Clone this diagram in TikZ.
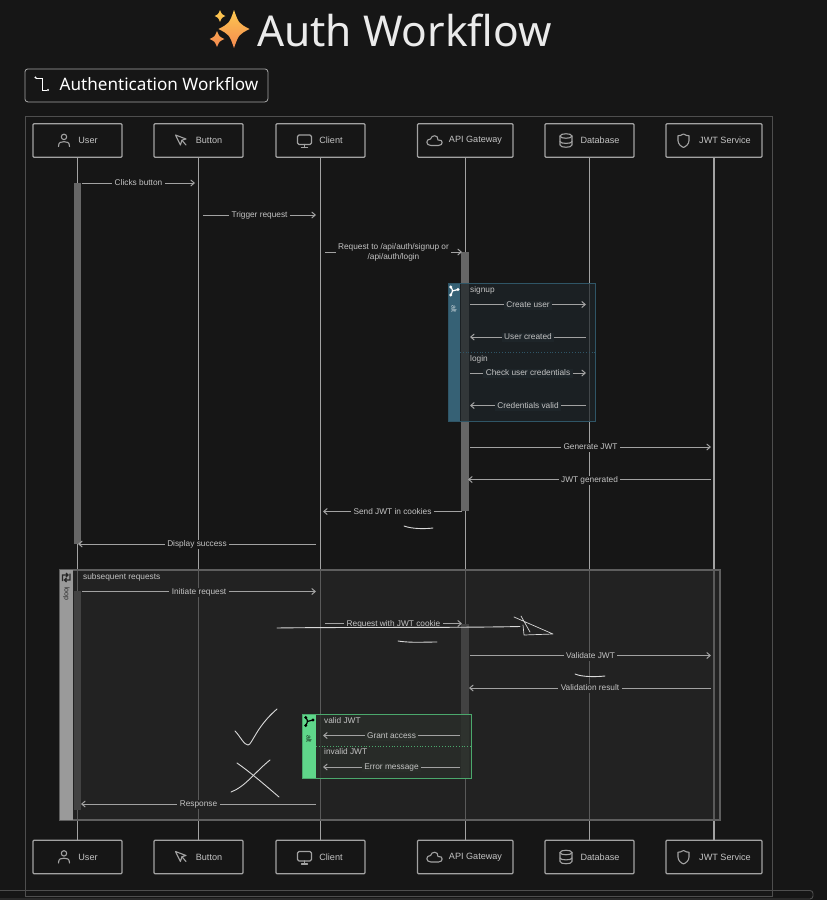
\documentclass[tikz,border=0pt]{standalone}
\usepackage{fontspec}
\setmainfont{Liberation Sans}
\newfontfamily\titlefont{Noto Sans}
\usetikzlibrary{arrows.meta,calc}
\definecolor{pagebg}{HTML}{161616}
\definecolor{framec}{HTML}{4E4E4E}
\definecolor{linec}{HTML}{A2A2A2}
\definecolor{textc}{HTML}{C4C4C4}
\definecolor{loopbg}{HTML}{222222}
\definecolor{loopover}{HTML}{2A2A2A}
\definecolor{loopedge}{HTML}{5E5E5E}
\definecolor{looptab}{HTML}{9A9A9A}
\definecolor{tealbg}{HTML}{1E2529}
\definecolor{tealtab}{HTML}{39677C}
\definecolor{tealline}{HTML}{2F5566}
\definecolor{greenbg}{HTML}{2A2E2A}
\definecolor{greentab}{HTML}{5FD68A}
\definecolor{greenline}{HTML}{4BA86C}
\definecolor{actc}{HTML}{666666}
\definecolor{staryellow}{HTML}{FCC850}
\definecolor{starorange}{HTML}{F58A50}
\tikzset{
  x=1pt,y=-1pt,
  actor/.style={draw=linec,line width=1.1pt,rounded corners=1pt,minimum height=33.5pt,inner sep=0pt,font=\fontsize{9.1}{10}\selectfont,text=textc,anchor=center},
  lifeline/.style={draw=linec,line width=1.1pt},
  msgline/.style={draw=linec,line width=1pt,-{Straight Barb[length=3.5pt,width=6pt]}},
  msgtext/.style={font=\fontsize{8.3}{10}\selectfont,text=textc,inner xsep=2.5pt,inner ysep=.5pt,align=center,yshift=-.7pt},
  oneline/.style={text height=5.9pt,text depth=1.7pt},
  framelabel/.style={font=\fontsize{8.3}{10}\selectfont,text=textc,anchor=west,inner sep=0pt,yshift=-.5pt},
  icon/.style={draw=linec,line width=1.1pt,line join=round,line cap=round,fill=none},
  scribble/.style={draw=white!85!black,line width=.9pt,line cap=round,line join=round},
  activation/.style={fill=actc,draw=none},
}
\newcommand{\msg}[7]{% id, x1, x2, y, label, extra style, background
  \coordinate (#1s) at (#2,#4);
  \coordinate (#1e) at (#3,#4);
  \draw[msgline] (#1s) -- (#1e);
  \node[msgtext,#6,fill=#7] (#1t) at ($(#1s)!.5!(#1e)$) {#5};
}
\newcommand{\fourstar}[6]{% cx, cy, rx, ry, top colour, bottom colour
  \shade[top color=#5,bottom color=#6] (#1,#2-#4) .. controls (#1+.3*#3,#2-.3*#4) .. (#1+#3,#2)
    .. controls (#1+.3*#3,#2+.3*#4) .. (#1,#2+#4)
    .. controls (#1-.3*#3,#2+.3*#4) .. (#1-#3,#2)
    .. controls (#1-.3*#3,#2-.3*#4) .. cycle;
}
\tikzset{
  pics/person/.style={code={
    \draw[icon] (0,-3.6) circle (2.7);
    \draw[icon] (-5.5,6) .. controls (-5.5,1.5) and (-3,1.2) .. (0,1.2) .. controls (3,1.2) and (5.5,1.5) .. (5.5,6);
  }},
  pics/cursor/.style={code={
    \draw[icon] (-5.5,-5.5) -- (5,-1.5) -- (.9,-.3) -- (-.6,4.5) -- cycle;
    \draw[icon] (.9,-.3) -- (5,4.5);
  }},
  pics/monitor/.style={code={
    \draw[icon,rounded corners=1.5pt] (-7,-5.5) rectangle (7,4);
    \draw[icon] (0,4) -- (0,7) (-3,7) -- (3,7);
  }},
  pics/cloud/.style={code={
    \draw[icon] (-3.5,5) .. controls (-9,5) and (-9,-1.5) .. (-4,-1.5)
      .. controls (-3,-6) and (4,-6) .. (3.5,-.5)
      .. controls (9,-1.5) and (9,5) .. (4,5) -- cycle;
  }},
  pics/dbicon/.style={code={
    \draw[icon] (-6,-4.5) .. controls (-6,-7.5) and (6,-7.5) .. (6,-4.5) .. controls (6,-1.5) and (-6,-1.5) .. (-6,-4.5);
    \draw[icon] (-6,-4.5) -- (-6,4.5) .. controls (-6,7.5) and (6,7.5) .. (6,4.5) -- (6,-4.5);
    \draw[icon] (-6,1) .. controls (-6,3.5) and (6,3.5) .. (6,1);
  }},
  pics/shield/.style={code={
    \draw[icon] (0,-6.5) .. controls (2,-5) and (4,-4.8) .. (5.5,-4.8) -- (5.5,0)
      .. controls (5.5,4) and (2,6) .. (0,7) .. controls (-2,6) and (-5.5,4) .. (-5.5,0) -- (-5.5,-4.8)
      .. controls (-4,-4.8) and (-2,-5) .. (0,-6.5);
  }},
  pics/branch/.style={code={
    \fill[#1] (-3.2,-4) circle (1.6) (-3.2,4) circle (1.6) (4,-1.5) circle (1.6);
    \draw[#1,line width=1.2pt] (-3.2,-4) .. controls (-1,-.5) .. (-3.2,4) (-1.8,0) -- (4,-1.5);
  }},
}
\begin{document}
\begin{tikzpicture}
\useasboundingbox (0,0) rectangle (827,900);
\fill[pagebg] (0,0) rectangle (827,900);

% title
\fourstar{234}{29}{15.5}{19}{staryellow}{starorange}
\fourstar{220}{16}{5.5}{6}{staryellow}{staryellow!80!starorange}
\fourstar{217}{39}{7.5}{8}{staryellow!40!starorange}{starorange}
\node[font=\titlefont\fontsize{42.5}{48}\selectfont,text=white!92!black,anchor=west,inner sep=0pt] (title) at (257,30) {Auth Workflow};

% tab button
\node[draw=white!65!black,line width=.8pt,rounded corners=3pt,minimum width=243pt,minimum height=33pt,inner sep=0pt,anchor=north west] (tabbtn) at (24.5,68.5) {};
\node[text=white,font=\titlefont\fontsize{17.1}{20}\selectfont,anchor=west,inner sep=0pt] (tabtext) at (59.5,84) {Authentication Workflow};
\draw[white,line width=1pt] (36,78) -- (42,78) -- (42,90) -- (47,90);
\fill[white] (35.5,77.5) circle (1.2) (48,90) circle (1.2);

% outer frame
\node[draw=framec,line width=1pt,minimum width=746.5pt,minimum height=780.5pt,inner sep=0pt,anchor=north west] (outer) at (25,115.5) {};

% actors
\foreach \nm/\cx/\bw in {user/77.5/89,button/198.5/89,client/320.5/89,api/465.25/95.5,db/589.5/89,jwt/714/96}{
  \node[actor,minimum width=\bw pt] (\nm T) at (\cx,140.5) {};
  \node[actor,minimum width=\bw pt] (\nm B) at (\cx,857) {};
}

% lifelines
\foreach \nm in {user,button,client,api,db,jwt}{
  \draw[lifeline] (\nm T.south) -- (\nm B.north);
}

% activations
\fill[activation] (74,183) rectangle (81,544);
\fill[activation] (461,252) rectangle (469,511);
\fill[activation] (74,591) rectangle (81,810);
\fill[activation] (461,624) rectangle (469,778);

% loop frame: a veil over lifelines and activations
\fill[loopover,opacity=.6] (60,570) rectangle (720,820);
\draw[loopedge,line width=1.1pt] (60,570) rectangle (720,820);
\fill[looptab] (60,570) rectangle (73,820);

% alt teal
\fill[tealbg,opacity=.72] (448,283) rectangle (595,421);
\fill[tealtab,opacity=.92] (448,283) rectangle (460,421);
\draw[tealline,line width=.9pt] (448,283) rectangle (595,421);
\draw[tealline,line width=.8pt,dotted] (460,352) -- (595,352);
\pic at (454,291) {branch=white};
\node[rotate=-90,font=\fontsize{7}{8}\selectfont,text=white!75!tealtab,inner sep=0pt] (altA) at (454,309) {alt};
\node[framelabel] (lsign) at (470,290) {signup};
\node[framelabel] (llogin) at (470,358.5) {login};

% alt green
\fill[greenbg,opacity=.8] (302,714) rectangle (471,778);
\fill[greentab] (302,714) rectangle (316,778);
\draw[greenline,line width=.9pt] (302,714) rectangle (471,778);
\draw[greenline,line width=.8pt,dotted] (316,746) -- (471,746);
\pic at (309,721.5) {branch=black};
\node[rotate=-90,font=\fontsize{7}{8}\selectfont,text=black!80!greentab,inner sep=0pt] (altB) at (309,739) {alt};
\node[framelabel] (lvalid) at (324,720) {valid JWT};
\node[framelabel] (linvalid) at (324,751) {invalid JWT};

% loop labels
\draw[black!75!looptab,line width=1.1pt] (62.5,581) -- (62.5,575) -- (68,575) (66,573) -- (68,575) -- (66,577)
  (70,573.5) -- (70,580) -- (64.5,580) (66.5,578) -- (64.5,580) -- (66.5,582);
\node[rotate=-90,font=\fontsize{7}{8}\selectfont,text=black!75!looptab,inner sep=0pt] (loopL) at (66.5,594) {loop};
\node[framelabel] (lsub) at (83,577) {subsequent requests};

% messages
\msg{a}{82}{195}{183}{Clicks button}{oneline}{pagebg}
\msg{b}{203}{316}{215}{Trigger request}{oneline}{pagebg}
\msg{c}{325}{462}{252}{Request to /api/auth/signup or\\/api/auth/login}{}{pagebg}
\msg{d}{470}{586}{304.5}{Create user}{oneline}{tealbg}
\msg{e}{586}{470}{337}{User created}{oneline}{tealbg}
\msg{f}{470}{586}{373}{Check user credentials}{oneline}{tealbg}
\msg{g}{586}{470}{405.5}{Credentials valid}{oneline}{tealbg}
\msg{h}{470}{711}{447}{Generate JWT}{oneline}{pagebg}
\msg{i}{711}{468}{479.5}{JWT generated}{oneline}{pagebg}
\msg{j}{462}{323}{511.5}{Send JWT in cookies}{oneline}{pagebg}
\msg{k}{316}{78}{544}{Display success}{oneline}{pagebg}
\msg{l}{82}{316}{591.5}{Initiate request}{oneline}{loopbg}
\msg{m}{325}{462}{623.5}{Request with JWT cookie}{oneline}{loopbg}
\msg{n}{470}{711}{655.5}{Validate JWT}{oneline}{loopbg}
\msg{o}{711}{469}{688}{Validation result}{oneline}{loopbg}
\msg{p}{460}{323}{735.5}{Grant access}{oneline}{greenbg}
\msg{q}{460}{323}{767}{Error message}{oneline}{greenbg}
\msg{r}{316}{81}{804}{Response}{oneline}{loopbg}

% actor contents
\foreach \s/\yy in {T/140.5,B/857}{
  \pic at (64,\yy) {person};
  \node[actor,draw=none,minimum height=0pt] (userL\s) at (88,\yy) {User};
  \pic at (181,\yy) {cursor};
  \node[actor,draw=none,minimum height=0pt] (buttonL\s) at (209,\yy) {Button};
  \pic at (304.5,\yy) {monitor};
  \node[actor,draw=none,minimum height=0pt] (clientL\s) at (331,\yy) {Client};
  \pic at (434.5,\yy) {cloud};
  \node[actor,draw=none,minimum height=0pt] (apiL\s) at (475.5,\yy) {API Gateway};
  \pic at (566,\yy) {dbicon};
  \node[actor,draw=none,minimum height=0pt] (dbL\s) at (600,\yy) {Database};
  \pic at (683.5,\yy) {shield};
  \node[actor,draw=none,minimum height=0pt] (jwtL\s) at (725,\yy) {JWT Service};
}

% hand scribbles
\draw[scribble] (277,628) .. controls (340,627) and (450,628) .. (520,626.5);
\draw[scribble,line width=.7pt] (514,617) -- (553,634) -- (524,635) -- (523,625) (521,616) -- (530,632);
\draw[scribble] (404,526) .. controls (412,529) and (425,529) .. (433,528);
\draw[scribble] (398,641) .. controls (410,643) and (425,642) .. (437,642);
\draw[scribble] (575,674) .. controls (582,677) and (595,677) .. (605,676);
\draw[scribble] (235,731) .. controls (240,736) and (244,745) .. (248,745) .. controls (252,745) and (256,727) .. (277,709);
\draw[scribble] (237,763) .. controls (250,772) and (265,785) .. (279,797);
\draw[scribble] (231,792) .. controls (245,787) and (255,772) .. (270,760);

% scrollbar
\draw[framec,line width=.9pt,rounded corners=3pt] (-3,890.5) -- (813,890.5) -- (813,899) -- (-3,899);
\end{tikzpicture}
\end{document}
